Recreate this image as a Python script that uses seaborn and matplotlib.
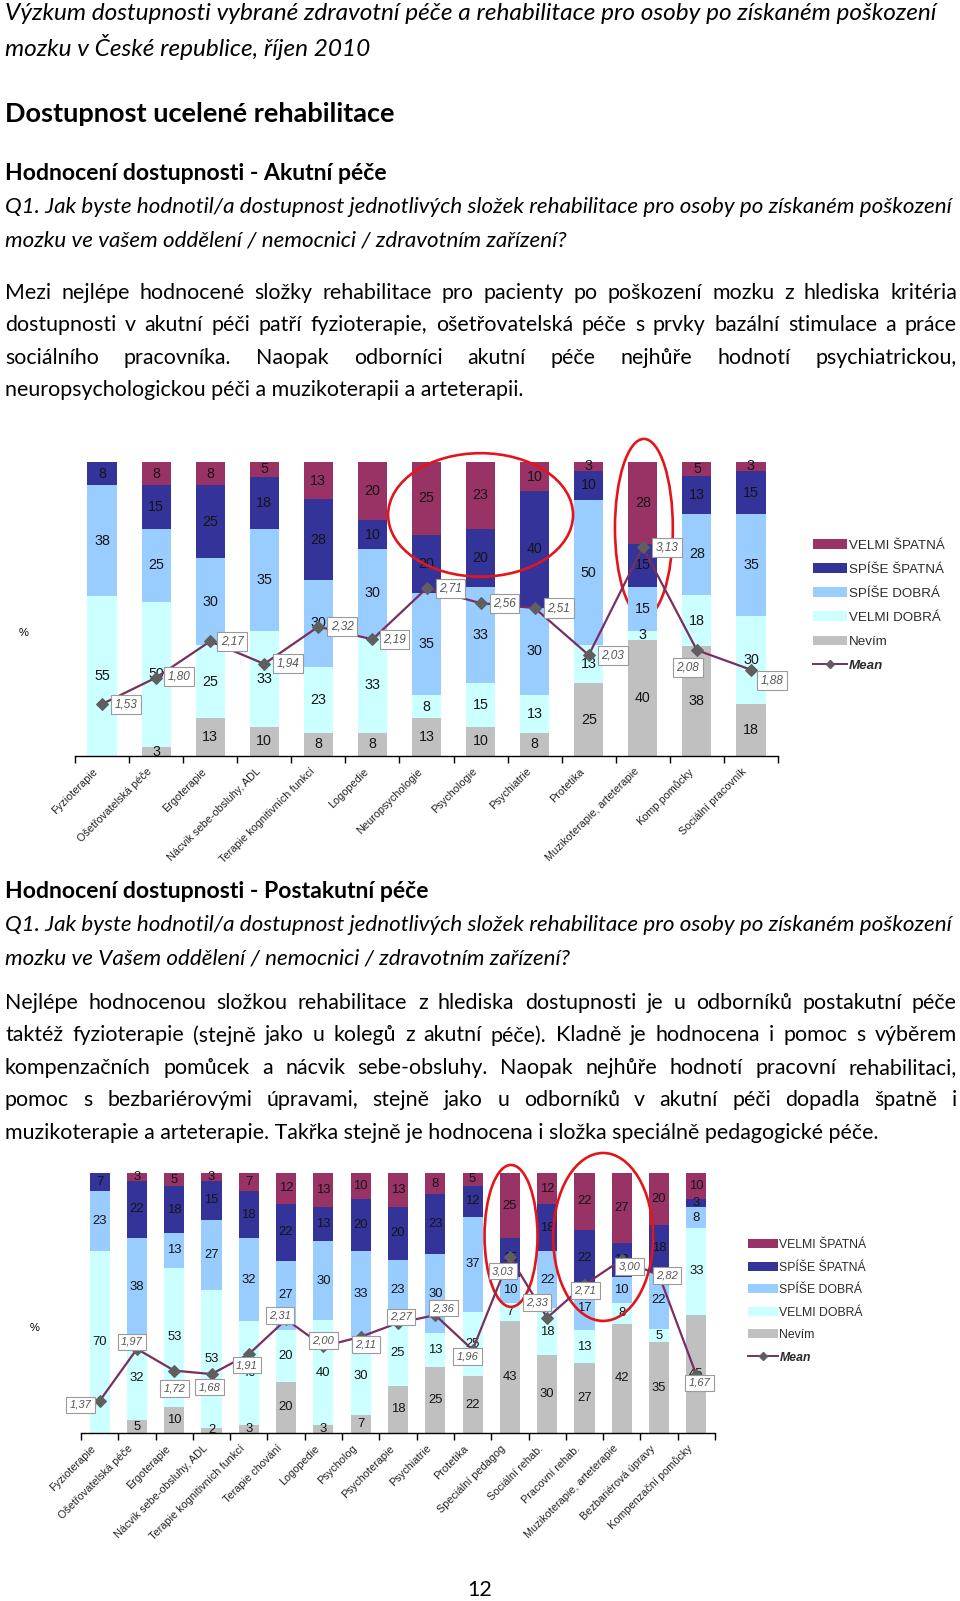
import numpy as np
import pandas as pd
import matplotlib
matplotlib.use('Agg')
import matplotlib.pyplot as plt
from matplotlib.patches import Ellipse, Patch
from matplotlib.lines import Line2D
from matplotlib.transforms import ScaledTranslation
import seaborn as sns

W, H = 960, 1601

# ---- Akutni pece ----
acute_cats = ['Fyzioterapie', 'Ošetřovatelská péče', 'Ergoterapie', 'Nácvik sebe-obsluhy, ADL',
              'Terapie kognitivních funkcí', 'Logopedie', 'Neuropsychologie', 'Psychologie',
              'Psychiatrie', 'Protetika', 'Muzikoterapie, arteterapie', 'Komp.pomůcky',
              'Sociální pracovník']
acute_nevim = [0, 3, 13, 10, 8, 8, 13, 10, 8, 25, 40, 38, 18]
acute_velmi_dobra = [55, 50, 25, 33, 23, 33, 8, 15, 13, 13, 3, 18, 30]
acute_spise_dobra = [38, 25, 30, 35, 30, 30, 35, 33, 30, 50, 15, 28, 35]
acute_spise_spatna = [8, 15, 25, 18, 28, 10, 20, 20, 40, 10, 15, 13, 15]
acute_velmi_spatna = [0, 8, 8, 5, 13, 20, 25, 23, 10, 3, 28, 5, 3]
acute_mean = [1.53, 1.80, 2.17, 1.94, 2.32, 2.19, 2.71, 2.56, 2.51, 2.03, 3.13, 2.08, 1.88]

# ---- Postakutni pece ----
post_cats = ['Fyzioterapie', 'Ošetřovatelská péče', 'Ergoterapie', 'Nácvik sebe-obsluhy, ADL',
             'Terapie kognitivních funkcí', 'Terapie chování', 'Logopedie', 'Psycholog',
             'Psychoterapie', 'Psychiatrie', 'Protetika', 'Speciální pedagog', 'Sociální rehab.',
             'Pracovní rehab.', 'Muzikoterapie, arteterapie', 'Bezbariérová úpravy',
             'Kompenzační pomůcky']
post_nevim = [0, 5, 10, 2, 3, 20, 3, 7, 18, 25, 22, 43, 30, 27, 42, 35, 45]
post_velmi_dobra = [70, 32, 53, 53, 40, 20, 40, 30, 25, 13, 25, 7, 18, 13, 8, 5, 33]
post_spise_dobra = [23, 38, 13, 27, 32, 27, 30, 33, 23, 30, 37, 10, 22, 17, 10, 22, 8]
post_spise_spatna = [7, 22, 18, 15, 18, 22, 13, 20, 20, 23, 12, 15, 18, 22, 13, 18, 3]
post_velmi_spatna = [0, 3, 5, 3, 7, 12, 13, 10, 13, 8, 5, 25, 12, 22, 27, 20, 10]
post_mean = [1.37, 1.97, 1.72, 1.68, 1.91, 2.31, 2.00, 2.11, 2.27, 2.36, 1.96, 3.03, 2.33,
             2.71, 3.00, 2.82, 1.67]

layer_names = ['Nevím', 'VELMI DOBRÁ', 'SPÍŠE DOBRÁ', 'SPÍŠE ŠPATNÁ', 'VELMI ŠPATNÁ']
colors = {'VELMI ŠPATNÁ': '#993366', 'SPÍŠE ŠPATNÁ': '#333399', 'SPÍŠE DOBRÁ': '#99ccff',
          'VELMI DOBRÁ': '#ccffff', 'Nevím': '#c0c0c0'}
MEAN_LINE = '#7a2e5e'
MEAN_MARK = '#5f5f5f'
RED = '#e3151a'

# label box offsets (px right, px down) relative to the mean marker
acute_offsets = [(24, 0), (23, -1), (22, 0), (24, 0), (24, 0), (22, 0), (24, 0), (24, 0),
                 (24, 0), (24, 0), (24, 0), (-9, 17), (21, 11)]
post_offsets = [(-19, 4), (-5, -7), (0, 18), (-2, 13), (-2, 11), (-6, -4), (0, -6), (5, 8),
                (3, -6), (8, -7), (-5, 7), (-7, 14), (-10, -15), (1, 6), (8, 7), (8, 0), (3, 8)]

BODY_FONT = 'Lato'
CHART_FONT = 'Liberation Sans'


def fx(px):
    return px / W


def fy(py):
    return 1 - py / H


def axes_rect(x0, y_top, x1, y_bottom):
    return [fx(x0), fy(y_bottom), (x1 - x0) / W, (y_bottom - y_top) / H]


def fit_size(fig, text, right_edge, base=14, **kw):
    # font size that makes the line end where it ends in the page
    r = fig.canvas.get_renderer()
    t = fig.text(0, 0, text, fontsize=base, family=BODY_FONT, **kw)
    w = t.get_window_extent(r).width
    t.remove()
    return base * (right_edge - 5) / w


def put_line(fig, text, y, size, **kw):
    fig.text(fx(5), fy(y), text, fontsize=size, family=BODY_FONT, va='center', ha='left', **kw)


def put_justified(fig, line, y, size, x0=5, x1=957):
    r = fig.canvas.get_renderer()
    words = line.split()
    texts = [fig.text(0, fy(y), w, fontsize=size, family=BODY_FONT, va='center', ha='left')
             for w in words]
    widths = [t.get_window_extent(r).width for t in texts]
    gap = (x1 - x0 - sum(widths)) / (len(words) - 1)
    x = x0
    for t, w in zip(texts, widths):
        t.set_x(fx(x))
        x += w + gap


def draw_chart(fig, ax, cats, layers, means, offsets, lab_size, box_size, mark_size):
    n = len(cats)
    df = pd.DataFrame(dict(zip(layer_names, layers)), index=cats)
    norm = df.div(df.sum(axis=1), axis=0) * 100
    cum = norm.cumsum(axis=1)

    # stacked bars: draw cumulative totals from the top layer down
    for name in reversed(layer_names):
        sns.barplot(x=cats, y=cum[name].values, color=colors[name], width=0.54,
                    saturation=1, errorbar=None, linewidth=0, ax=ax, zorder=2)

    for i, cat in enumerate(cats):
        for name in layer_names:
            v = df.loc[cat, name]
            if v > 0:
                ax.text(i, cum.loc[cat, name] - norm.loc[cat, name] / 2, str(v),
                        ha='center', va='center', fontsize=lab_size, family=CHART_FONT,
                        color='#151515', zorder=5)

    ax.set_ylim(0, 100)
    ax.set_xlim(-0.5, n - 0.5)
    ax.set_ylabel('')
    ax.set_yticks([])
    for s in ['left', 'top', 'right']:
        ax.spines[s].set_visible(False)
    ax.spines['bottom'].set_linewidth(1.0)
    ax.spines['bottom'].set_color('#000000')
    ax.set_xticks(np.arange(n + 1) - 0.5, labels=[''] * (n + 1))
    ax.set_xticks(np.arange(n), labels=cats, minor=True)
    ax.tick_params(axis='x', which='major', length=5, width=1, color='#000000')
    ax.tick_params(axis='x', which='minor', length=0, pad=6)
    for lab in ax.get_xticklabels(minor=True):
        lab.set_rotation(45)
        lab.set_ha('right')
        lab.set_va('center')
        lab.set_rotation_mode('anchor')
        lab.set_fontsize(7.8)
        lab.set_family(CHART_FONT)
        lab.set_color('#222222')
        lab.set_transform(lab.get_transform() + ScaledTranslation(-4 / 72, -4 / 72, fig.dpi_scale_trans))

    ax2 = ax.twinx()
    sns.lineplot(x=np.arange(n), y=means, ax=ax2, color=MEAN_LINE, lw=1.6, marker='D',
                 markersize=mark_size, markerfacecolor=MEAN_MARK, markeredgecolor=MEAN_MARK)
    ax2.set_ylim(1, 4)
    ax2.set_xlim(-0.5, n - 0.5)
    ax2.set_axis_off()
    for i, m in enumerate(means):
        dx, dy = offsets[i]
        ax2.annotate(f'{m:.2f}'.replace('.', ','), xy=(i, m), xytext=(dx * 0.72, -dy * 0.72),
                     textcoords='offset points', ha='center', va='center', fontsize=box_size,
                     family=CHART_FONT, style='italic', color='#555555',
                     bbox=dict(boxstyle='square,pad=0.3', fc='white', ec='#9a9a9a', lw=0.8))
    return ax2


def add_legend(fig, x, y, size, spacing, hlen):
    handles = [Patch(facecolor=colors[nm], edgecolor='none', label=nm)
               for nm in reversed(layer_names)]
    handles.append(Line2D([0], [0], color=MEAN_LINE, lw=1.4, marker='D', markersize=4,
                          markerfacecolor=MEAN_MARK, markeredgecolor=MEAN_MARK, label='Mean'))
    leg = fig.legend(handles=handles, loc='upper left', bbox_to_anchor=(fx(x), fy(y)),
                     frameon=False, prop={'family': CHART_FONT, 'size': size},
                     handlelength=hlen, handleheight=0.75, handletextpad=0.12,
                     labelspacing=spacing, borderpad=0, borderaxespad=0)
    for t in leg.get_texts():
        t.set_color('#2a2a2a')
    leg.get_texts()[-1].set_style('italic')
    leg.get_texts()[-1].set_weight('bold')


fig = plt.figure(figsize=(W / 100, H / 100), dpi=100)
fig.patch.set_facecolor('white')

title1 = 'Výzkum dostupnosti vybrané zdravotní péče a rehabilitace pro osoby po získaném poškození'
q1 = 'Q1. Jak byste hodnotil/a dostupnost jednotlivých složek rehabilitace pro osoby po získaném poškození'
head_main = 'Dostupnost ucelené rehabilitace'
head_acute = 'Hodnocení dostupnosti - Akutní péče'
head_post = 'Hodnocení dostupnosti - Postakutní péče'
last2 = 'muzikoterapie a arteterapie. Takřka stejně je hodnocena i složka speciálně pedagogické péče.'

s_title = fit_size(fig, title1, 941, style='italic')
s_q = fit_size(fig, q1, 955, style='italic')
s_main = fit_size(fig, head_main, 398, weight='bold')
s_head = fit_size(fig, head_acute, 390, weight='bold')
s_body = fit_size(fig, last2, 878)

# ---- page text ----
put_line(fig, title1, 14, s_title, style='italic')
put_line(fig, 'mozku v České republice, říjen 2010', 47, s_title, style='italic')
put_line(fig, head_main, 114, s_main, weight='bold')
put_line(fig, head_acute, 174, s_head, weight='bold')
put_line(fig, q1, 207, s_q, style='italic')
put_line(fig, 'mozku ve vašem oddělení / nemocnici / zdravotním zařízení?', 240, s_q, style='italic')

para1 = ['Mezi nejlépe hodnocené složky rehabilitace pro pacienty po poškození mozku z hlediska kritéria',
         'dostupnosti v akutní péči patří fyzioterapie, ošetřovatelská péče s prvky bazální stimulace a práce',
         'sociálního pracovníka. Naopak odborníci akutní péče nejhůře hodnotí psychiatrickou,']
for k, line in enumerate(para1):
    put_justified(fig, line, 293 + k * 32.4, s_body)
put_line(fig, 'neuropsychologickou péči a muzikoterapii a arteterapii.', 390, s_body)

put_line(fig, head_post, 892, s_head, weight='bold')
put_line(fig, q1, 925, s_q, style='italic')
put_line(fig, 'mozku ve Vašem oddělení / nemocnici / zdravotním zařízení?', 958, s_q, style='italic')

para2 = ['Nejlépe hodnocenou složkou rehabilitace z hlediska dostupnosti je u odborníků postakutní péče',
         'taktéž fyzioterapie (stejně jako u kolegů z akutní péče). Kladně je hodnocena i pomoc s výběrem',
         'kompenzačních pomůcek a nácvik sebe-obsluhy. Naopak nejhůře hodnotí pracovní rehabilitaci,',
         'pomoc s bezbariérovými úpravami, stejně jako u odborníků v akutní péči dopadla špatně i']
for k, line in enumerate(para2):
    put_justified(fig, line, 1003 + k * 32.4, s_body)
put_line(fig, last2, 1133, s_body)

fig.text(fx(480), fy(1590), '12', fontsize=s_body, family=BODY_FONT, ha='center', va='center')

# ---- chart 1 ----
ax1 = fig.add_axes(axes_rect(75, 462, 778, 756))
ax1b = draw_chart(fig, ax1, acute_cats,
                  [acute_nevim, acute_velmi_dobra, acute_spise_dobra, acute_spise_spatna, acute_velmi_spatna],
                  acute_mean, acute_offsets, 10.3, 8.5, 6.5)
ax1.add_patch(Ellipse((7, 82), 3.42, 42, fill=False, ec=RED, lw=1.9, clip_on=False, zorder=6))
# second ring sits behind the bars, so its lower part is hidden like in the original
ax1.add_patch(Ellipse((10.02, 77.6), 1.07, 60.5, fill=False, ec=RED, lw=1.9, clip_on=False, zorder=0.5))
fig.text(fx(24), fy(633), '%', fontsize=8, family=CHART_FONT, ha='center', va='center')
add_legend(fig, 813, 539, 9.6, 0.87, 2.55)

# ---- chart 2 ----
ax2 = fig.add_axes(axes_rect(81, 1173, 715, 1433))
ax2b = draw_chart(fig, ax2, post_cats,
                  [post_nevim, post_velmi_dobra, post_spise_dobra, post_spise_spatna, post_velmi_spatna],
                  post_mean, post_offsets, 9.4, 8, 6)
ax2.add_patch(Ellipse((11.03, 75.8), 1.42, 54.6, fill=False, ec=RED, lw=1.9, clip_on=False, zorder=6))
ax2.add_patch(Ellipse((13.5, 75.4), 2.68, 64.6, fill=False, ec=RED, lw=1.9, clip_on=False, zorder=6))
fig.text(fx(35), fy(1328), '%', fontsize=8, family=CHART_FONT, ha='center', va='center')
add_legend(fig, 748, 1239, 8.8, 0.86, 2.45)

fig.savefig('out.png', dpi=100, facecolor='white')
